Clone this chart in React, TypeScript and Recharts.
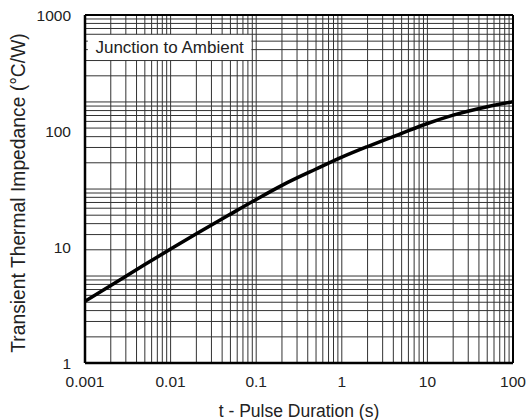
import { LineChart, Line, XAxis, YAxis, ReferenceLine, ReferenceArea } from "recharts";

// pulse duration (s) vs transient thermal impedance (°C/W), junction to ambient
const pulseTime = [0.001, 0.002, 0.005, 0.01, 0.02, 0.05, 0.1, 0.2, 0.5, 1, 2, 5, 10, 20, 50, 100];
const impedance = [3.4, 4.65, 7.05, 9.6, 13.0, 19.2, 25.7, 34, 47, 59.5, 73.5, 95.5, 116, 137, 162, 179];

const xTicks = [0.001, 0.01, 0.1, 1, 10, 100];
const yTicks = [1, 10, 100, 1000];

// vertical grid: plain log paper, 2..9 in every decade
const xGrid = [
  0.002, 0.003, 0.004, 0.005, 0.006, 0.007, 0.008, 0.009, 0.01,
  0.02, 0.03, 0.04, 0.05, 0.06, 0.07, 0.08, 0.09, 0.1,
  0.2, 0.3, 0.4, 0.5, 0.6, 0.7, 0.8, 0.9, 1,
  2, 3, 4, 5, 6, 7, 8, 9, 10,
  20, 30, 40, 50, 60, 70, 80, 90,
];

// horizontal grid as printed (doesn't line up with the 1/10/100 labels)
const yGrid = [
  1.68, 2.28, 2.83, 3.34, 3.83, 4.3, 4.76, 5.2, 5.62,
  9.46, 12.8, 15.9, 18.8, 21.6, 24.2, 26.8, 29.2, 31.6,
  53.2, 72.1, 89.4, 106, 121, 136, 150, 164, 178,
  299, 405, 503, 595, 682, 765, 846, 924,
];

// white label box "Junction to Ambient" (in data units)
const BOX = { x1: 0.00108, x2: 0.088, y1: 409, y2: 682 };

const data = pulseTime.map((t, i) => ({ t, z: impedance[i] }));

const FONT = "'Liberation Sans', Arial, Helvetica, sans-serif";
const GRID = "#333";

function gridLines() {
  const out: any[] = [];
  xGrid.forEach((v) => {
    if (v > BOX.x1 && v < BOX.x2) {
      out.push(
        <ReferenceLine key={"xa" + v} segment={[{ x: v, y: 1 }, { x: v, y: BOX.y1 }]} stroke={GRID} strokeWidth={1} />,
        <ReferenceLine key={"xb" + v} segment={[{ x: v, y: BOX.y2 }, { x: v, y: 1000 }]} stroke={GRID} strokeWidth={1} />
      );
    } else {
      out.push(<ReferenceLine key={"x" + v} x={v} stroke={GRID} strokeWidth={1} />);
    }
  });
  yGrid.forEach((v) => {
    if (v > BOX.y1 && v < BOX.y2) {
      out.push(
        <ReferenceLine key={"ya" + v} segment={[{ x: 0.001, y: v }, { x: BOX.x1, y: v }]} stroke={GRID} strokeWidth={1} />,
        <ReferenceLine key={"yb" + v} segment={[{ x: BOX.x2, y: v }, { x: 100, y: v }]} stroke={GRID} strokeWidth={1} />
      );
    } else {
      out.push(<ReferenceLine key={"y" + v} y={v} stroke={GRID} strokeWidth={1} />);
    }
  });
  return out;
}

export default function App() {
  return (
    <div style={{ position: "absolute", left: 0, top: 0, background: "#fff" }}>
      <LineChart
        width={527}
        height={420}
        data={data}
        margin={{ top: 15, right: 14, left: 0, bottom: 0 }}
        style={{ fontFamily: FONT }}
      >
        <XAxis
          dataKey="t"
          type="number"
          scale="log"
          domain={[0.001, 100]}
          ticks={xTicks}
          allowDataOverflow
          height={57}
          tickLine={false}
          tickSize={0}
          tickMargin={13}
          axisLine={{ stroke: "#000", strokeWidth: 2.5 }}
          tick={{ fill: "#222", fontSize: 15.5 }}
          label={{
            value: "t - Pulse Duration (s)",
            position: "insideBottom",
            offset: 3,
            fill: "#222",
            fontSize: 17.5,
          }}
        />
        <YAxis
          dataKey="z"
          type="number"
          scale="log"
          domain={[1, 1000]}
          ticks={yTicks}
          allowDataOverflow
          width={85}
          tickLine={false}
          tickSize={0}
          tickMargin={14}
          axisLine={{ stroke: "#000", strokeWidth: 2.5 }}
          tick={{ fill: "#222", fontSize: 15.5 }}
          label={{
            value: "Transient Thermal Impedance (°C/W)",
            angle: -90,
            position: "insideLeft",
            offset: 18,
            dy: 4,
            fill: "#222",
            fontSize: 19.3,
            style: { textAnchor: "middle" },
          }}
        />
        {gridLines()}
        <ReferenceLine y={1000} stroke="#000" strokeWidth={2} />
        <ReferenceLine x={100} stroke="#000" strokeWidth={2} />
        <ReferenceArea
          x1={BOX.x1}
          x2={BOX.x2}
          y1={BOX.y1}
          y2={BOX.y2}
          fill="#fff"
          fillOpacity={0}
          stroke="none"
          label={{ value: "Junction to Ambient", fill: "#222", fontSize: 17, position: "center" }}
        />
        <Line
          dataKey="z"
          type="monotone"
          stroke="#000"
          strokeWidth={3.5}
          dot={false}
          isAnimationActive={false}
        />
      </LineChart>
    </div>
  );
}
